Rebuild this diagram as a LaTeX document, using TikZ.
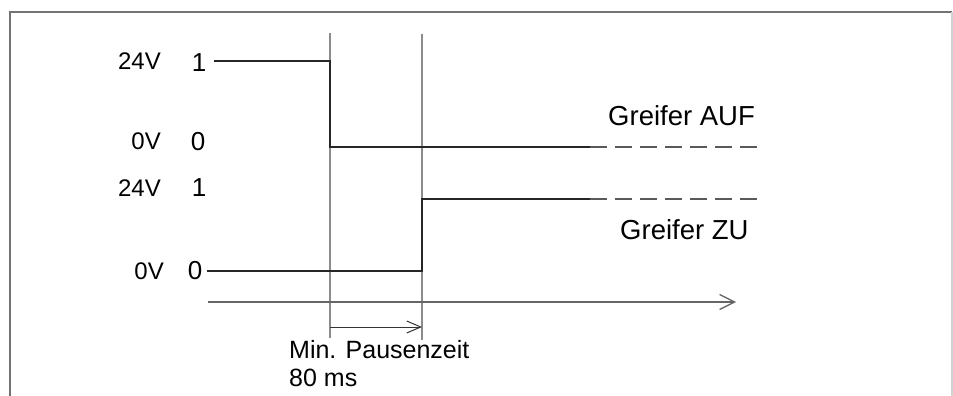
\documentclass[tikz,border=0pt]{standalone}
\usepackage{fontspec}
\setmainfont{Liberation Sans}
\usetikzlibrary{arrows.meta}
\begin{document}
\begin{tikzpicture}[x=1pt,y=-1pt,
    lbl/.style={font=\fontsize{24}{28}\selectfont, inner sep=0pt},
    bit/.style={font=\fontsize{26}{30}\selectfont, inner sep=0pt},
    big/.style={font=\fontsize{27.5}{32}\selectfont, inner sep=0pt},
    sig/.style={line width=1.3pt, black!85},
    sigdash/.style={sig, black!65, dash pattern=on 17pt off 8pt},
    guide/.style={line width=1.3pt, gray!90}]
    \useasboundingbox (0,0) rectangle (953,396);
    % frame
    \draw[gray!110, line width=1.6pt] (10,396) -- (10,12) -- (952,12);
    \draw[gray!35, line width=1.2pt] (952,12) -- (952,396);
    % level labels
    \node[lbl, anchor=base east] (uhiA) at (161,70) {24V};
    \node[bit, anchor=base] (bhiA) at (199,71) {1};
    \node[lbl, anchor=base east] (uloA) at (161,149) {0V};
    \node[bit, anchor=base] (bloA) at (198,150) {0};
    \node[lbl, anchor=base east] (uhiB) at (161,196) {24V};
    \node[bit, anchor=base] (bhiB) at (199,196) {1};
    \node[lbl, anchor=base east] (uloB) at (164,279) {0V};
    \node[bit, anchor=base] (bloB) at (195,279) {0};
    % time marks
    \coordinate (tA) at (330,33);
    \coordinate (tB) at (422,34);
    \draw[guide] (tA) -- (330,338);
    \draw[guide] (tB) -- (422,340);
    % signal Greifer AUF
    \draw[sig] (214,61) -- (tA |- 0,61) -- (tA |- 0,147) -- (590,147);
    \draw[sigdash] (590,147) -- (762,147);
    % signal Greifer ZU
    \draw[sig] (207,271) -- (tB |- 0,271) -- (tB |- 0,199) -- (590,199);
    \draw[sigdash] (590,199) -- (762,199);
    % time axis
    \draw[line width=1.3pt, black!60, -{Straight Barb[length=15pt,width=15pt]}] (208,302) -- (736,302);
    \draw[line width=1pt, black!80, -{Straight Barb[length=14pt,width=12pt]}] (tA |- 0,327) -- (tB |- 0,327);
    % texts
    \node[big, anchor=base west] (auf) at (608,125) {Greifer AUF};
    \node[big, anchor=base west] (zu) at (620,239) {Greifer ZU};
    \node[lbl, font=\fontsize{25}{30}\selectfont, anchor=base west] (pause) at (289,358) {Min. Pausenzeit};
    \node[lbl, font=\fontsize{25}{30}\selectfont, anchor=base west] (ms) at (289,386) {80 ms};
\end{tikzpicture}
\end{document}
